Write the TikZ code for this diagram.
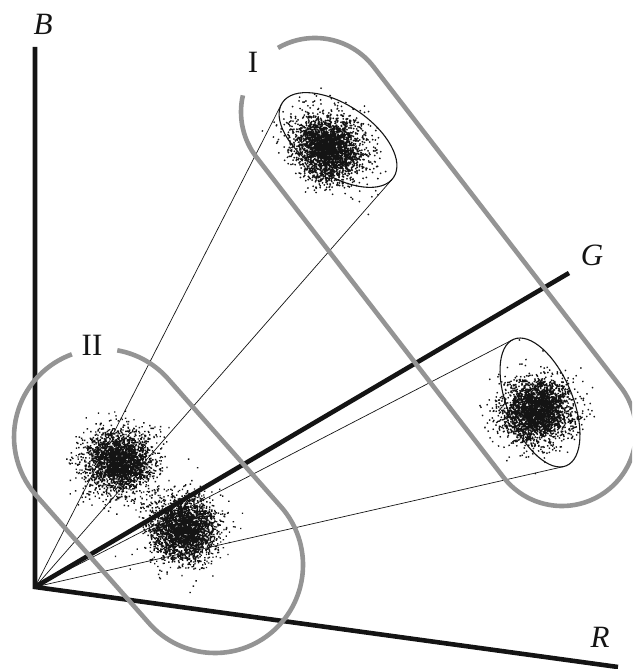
\documentclass[tikz,border=0pt]{standalone}
\usepackage{fontspec}
\setmainfont{Liberation Serif}
\usetikzlibrary{calc}

\colorlet{ringcol}{black!42}
\colorlet{inkcol}{black!92}
\pgfmathsetseed{4711}

\begin{document}
\begin{tikzpicture}[x=1pt, y=1pt,
    axis/.style={line width=4.6pt, draw=inkcol},
    ring/.style={line width=4.6pt, draw=ringcol},
    ray/.style={line width=0.7pt, draw=inkcol},
    rim/.style={line width=1.1pt, draw=inkcol},
    lab/.style={font=\fontsize{31}{31}\selectfont, text=inkcol, inner sep=0pt}
  ]
  \useasboundingbox (0,0) rectangle (632,669);
  \clip (0,0) rectangle (632,669);

  % ---- origin and axis ends ----
  \coordinate (O)    at (35,82);
  \coordinate (Bend) at (35,622);
  \coordinate (Gend) at (569,396);
  \coordinate (Rend) at (618,2);

  % ---- point clouds: centre x / centre y / spread / spread / tilt ----
  \foreach \cx/\cy/\sx/\sy/\tilt in {327/521/19/16/-34, 536/258/16/18/-70,
                                    118/207/17/16/0, 183/139/17/16/0}{
    \begin{scope}[shift={(\cx,\cy)}, rotate=\tilt]
      \fill[inkcol] \foreach \k [evaluate=\k as \rr using {sqrt(-2*ln(rnd+0.00001))},
                                 evaluate=\k as \aa using {360*rnd}] in {1,...,2650}{
        ({\aa}:{\sx*\rr} and {\sy*\rr}) rectangle ++(1.4,1.4)
      };
    \end{scope}
  }

  % ---- ellipse round cloud I, with its tangent points ----
  \begin{scope}[shift={(338,529)}, rotate=-34]
    \draw[rim] (0,0) ellipse [x radius=67, y radius=35];
    \coordinate (Ia) at (-176.35:67 and 35);
    \coordinate (Ib) at (-3.8:67 and 35);
  \end{scope}

  % ---- ellipse round the right cloud ----
  \begin{scope}[shift={(540,266.5)}, rotate=-67.4]
    \draw[rim] (0,0) ellipse [x radius=68.5, y radius=32.6];
    \coordinate (IIIa) at (-177.73:68.5 and 32.6);
    \coordinate (IIIb) at (-4.67:68.5 and 32.6);
  \end{scope}

  % ---- cone rays from the origin ----
  \foreach \t in {Ia, Ib, IIIa, IIIb}
    \draw[ray] (O) -- (\t);

  % ---- axes ----
  \draw[axis, line join=miter] (Bend) -- (O) -- (Rend);
  \draw[axis] (O) -- (Gend);

  % ---- grouping ring I ----
  \coordinate (IA) at (315,557);
  \coordinate (IB) at (562,237);
  \draw[ring] ($(IA)+(120:74)$) arc[start angle=120, end angle=37.7, radius=74]
    -- ($(IB)+(37.7:74)$) arc[start angle=37.7, end angle=-142.3, radius=74]
    -- ($(IA)+(217.7:74)$) arc[start angle=217.7, end angle=167, radius=74];

  % ---- grouping ring II ----
  \coordinate (IIA) at (102,232);
  \coordinate (IIB) at (215,104);
  \draw[ring] ($(IIA)+(80:88)$) arc[start angle=80, end angle=41.4, radius=88]
    -- ($(IIB)+(41.4:88)$) arc[start angle=41.4, end angle=-138.6, radius=88]
    -- ($(IIA)+(221.4:88)$) arc[start angle=221.4, end angle=110, radius=88];

  % ---- labels ----
  \node[lab] (labB)  at (43,645)  {\textit{B}};
  \node[lab] (labG)  at (592,414) {\textit{G}};
  \node[lab] (labR)  at (600,32)  {\textit{R}};
  \node[lab] (labI)  at (253,607) {I};
  \node[lab] (labII) at (92,324)  {II};
\end{tikzpicture}
\end{document}
